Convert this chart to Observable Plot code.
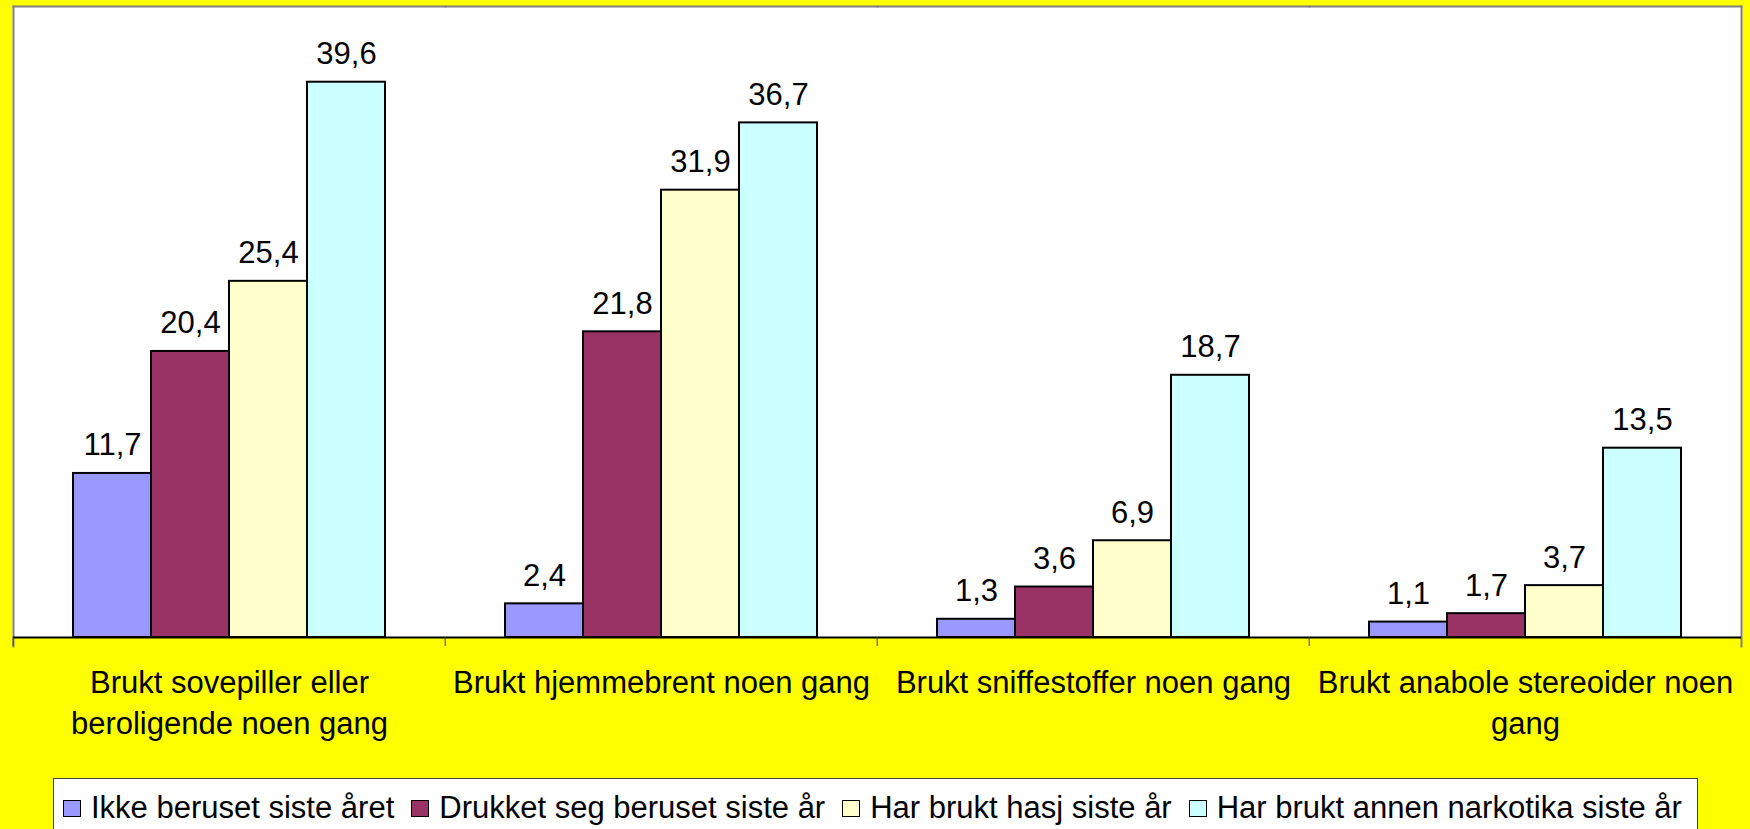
<!DOCTYPE html>
<html>
<head>
<meta charset="utf-8">
<script src="https://cdn.jsdelivr.net/npm/d3@7"></script>
<script src="https://cdn.jsdelivr.net/npm/@observablehq/plot@0.6"></script>
<style>
  html, body { margin: 0; padding: 0; background: #FFFF00; width: 1750px; height: 829px; overflow: hidden; }
  body { position: relative; font-family: "Liberation Sans", Arial, sans-serif; }
  #chart svg { display: block; }
  #legend {
    position: absolute; left: 53px; top: 778px; width: 1645px; height: 80px;
    background: #fff; border: 1px solid #404040; box-sizing: border-box;
    display: flex; align-items: flex-start; padding-left: 9px;
    font-size: 31px; color: #000; white-space: nowrap;
  }
  .item { display: flex; align-items: center; margin-right: 17px; height: 40px; margin-top: 9px; }
  .sw { width: 16px; height: 15px; border: 1.5px solid #000; margin-right: 10px; }
</style>
</head>
<body>
<div id="chart"></div>
<div id="legend"></div>
<script>
const categories = [
  "Brukt sovepiller eller beroligende noen gang",
  "Brukt hjemmebrent noen gang",
  "Brukt sniffestoffer noen gang",
  "Brukt anabole stereoider noen gang"
];
const tickLabels = [
  "Brukt sovepiller eller\nberoligende noen gang",
  "Brukt hjemmebrent noen gang",
  "Brukt sniffestoffer noen gang",
  "Brukt anabole stereoider noen\ngang"
];
const series = [
  "Ikke beruset siste året",
  "Drukket seg beruset siste år",
  "Har brukt hasj siste år",
  "Har brukt annen narkotika siste år"
];
const colors = ["#9999FF", "#993366", "#FFFFCC", "#CCFFFF"];
const ikkeBeruset = [11.7, 2.4, 1.3, 1.1];
const drukketBeruset = [20.4, 21.8, 3.6, 1.7];
const brukHasj = [25.4, 31.9, 6.9, 3.7];
const brukAnnen = [39.6, 36.7, 18.7, 13.5];
const yDomain = [0, 45];

const seriesValues = [ikkeBeruset, drukketBeruset, brukHasj, brukAnnen];
const data = [];
categories.forEach((c, ci) => {
  series.forEach((s, si) => {
    data.push({category: c, series: s, value: seriesValues[si][ci]});
  });
});
const labelOf = new Map(categories.map((c, i) => [c, tickLabels[i]]));
const fmt = v => v.toFixed(1).replace(".", ",");

const W = 1750, H = 776;
const mL = 11, mR = 8, mT = 6, mB = H - 637;
const halfBand = (W - mL - mR) / categories.length / 2;
const font = "'Liberation Sans', Arial, sans-serif";

const chart = Plot.plot({
  width: W,
  height: H,
  marginLeft: mL,
  marginRight: mR,
  marginTop: mT,
  marginBottom: mB,
  style: {background: "#FFFF00", fontFamily: font, color: "#000"},
  fx: {domain: categories, padding: 0, label: null},
  x: {domain: series, paddingInner: 0, paddingOuter: 0.735, axis: null},
  y: {domain: yDomain, axis: null},
  color: {domain: series, range: colors},
  marks: [
    Plot.frame({fill: "white", stroke: null, insetLeft: -1, insetRight: -1}),
    Plot.frame({anchor: "top", stroke: "#808080", strokeWidth: 2}),
    Plot.frame({anchor: "left", facetAnchor: "left", stroke: "#808080", strokeWidth: 2, insetBottom: -9}),
    Plot.frame({anchor: "right", facetAnchor: "right", stroke: "#808080", strokeWidth: 2, insetBottom: -9}),
    Plot.barY(data, {fx: "category", x: "series", y: "value", fill: "series", stroke: "#000", strokeWidth: 2}),
    Plot.ruleY([0], {stroke: "#000", strokeWidth: 2}),
    Plot.axisFx({anchor: "bottom", tickSize: 9, text: null, stroke: "#404040", dx: -halfBand, label: null}),
    Plot.axisFx({anchor: "bottom", tickSize: 0, tickPadding: 27, fontSize: 31, lineHeight: 1.31,
      tickFormat: d => labelOf.get(d), label: null, fill: "#000"}),
    Plot.text(data, {fx: "category", x: "series", y: "value", text: d => fmt(d.value),
      lineAnchor: "bottom", dy: -18, fontSize: 31, fill: "#000"})
  ]
});
document.getElementById("chart").appendChild(chart);

const legend = document.getElementById("legend");
series.forEach((s, i) => {
  const item = document.createElement("div");
  item.className = "item";
  const sw = document.createElement("div");
  sw.className = "sw";
  sw.style.background = colors[i];
  const t = document.createElement("span");
  t.textContent = s;
  item.appendChild(sw);
  item.appendChild(t);
  legend.appendChild(item);
});
</script>
</body>
</html>
